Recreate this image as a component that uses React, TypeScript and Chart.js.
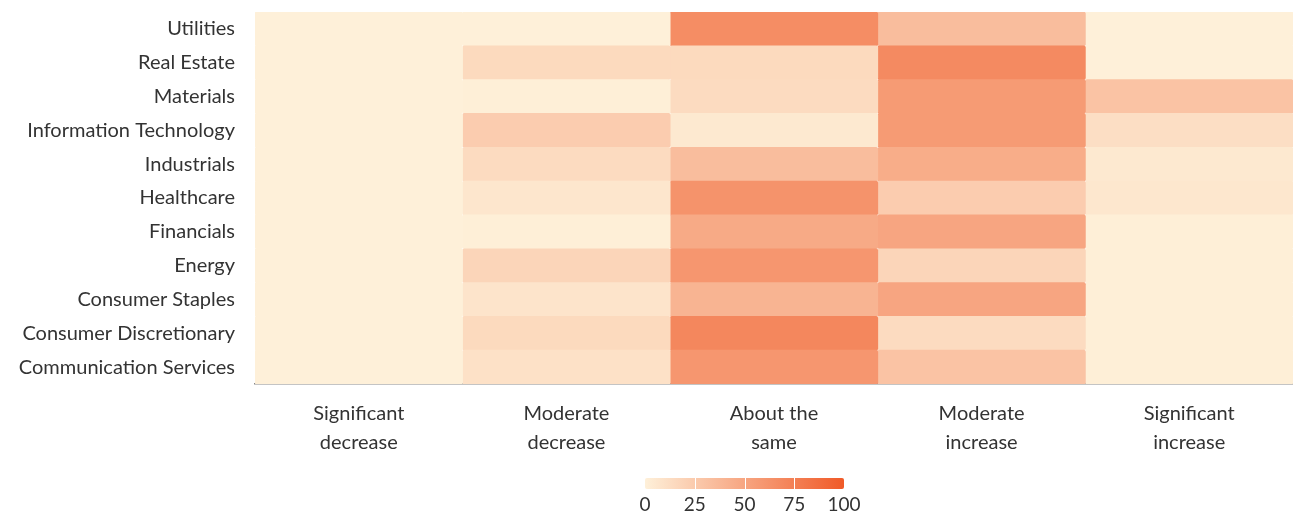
import React, { useEffect, useRef } from "react";
import { Chart, registerables } from "chart.js";

Chart.register(...registerables);

// Rows, top to bottom
const sectors = [
  "Utilities",
  "Real Estate",
  "Materials",
  "Information Technology",
  "Industrials",
  "Healthcare",
  "Financials",
  "Energy",
  "Consumer Staples",
  "Consumer Discretionary",
  "Communication Services",
];

// Columns
const responses = [
  ["Significant", "decrease"],
  ["Moderate", "decrease"],
  ["About the", "same"],
  ["Moderate", "increase"],
  ["Significant", "increase"],
];

// Share of respondents (%) per column, in the order of `sectors`
const significantDecrease = [0, 0, 0, 0, 0, 0, 0, 0, 0, 0, 0];
const moderateDecrease = [0, 15, 1, 24, 14, 7, 1, 18, 8, 15, 10];
const aboutTheSame = [66, 15, 14, 5, 34, 62, 47, 60, 40, 70, 60];
const moderateIncrease = [34, 68, 57, 57, 45, 24, 50, 18, 50, 14, 30];
const significantIncrease = [0, 0, 30, 12, 5, 6, 1, 1, 1, 1, 1];

const columns = [
  significantDecrease,
  moderateDecrease,
  aboutTheSame,
  moderateIncrease,
  significantIncrease,
];

const legendTicks = [0, 25, 50, 75, 100];

const LOW = [254, 240, 217];
const HIGH = [240, 90, 40];

function ramp(v: number): string {
  const t = Math.max(0, Math.min(1, v / 100));
  const c = LOW.map((l, i) => Math.round(l + (HIGH[i] - l) * t));
  return `rgb(${c[0]},${c[1]},${c[2]})`;
}

const FONT = "Lato, 'Open Sans', sans-serif";
const TEXT = "#333333";

const legendPlugin = {
  id: "colorLegend",
  afterDraw(chart: any) {
    const ctx = chart.ctx as CanvasRenderingContext2D;
    const x0 = 645;
    const w = 199;
    const y0 = 478;
    const h = 11;
    ctx.save();
    const g = ctx.createLinearGradient(x0, 0, x0 + w, 0);
    g.addColorStop(0, ramp(0));
    g.addColorStop(0.5, ramp(50));
    g.addColorStop(1, ramp(100));
    ctx.fillStyle = g;
    ctx.beginPath();
    (ctx as any).roundRect(x0, y0, w, h, 2);
    ctx.fill();
    ctx.strokeStyle = "#ffffff";
    ctx.lineWidth = 1;
    legendTicks.forEach((t, i) => {
      if (i === 0 || i === legendTicks.length - 1) return;
      const x = Math.round(x0 + (w * t) / 100) + 0.5;
      ctx.beginPath();
      ctx.moveTo(x, y0);
      ctx.lineTo(x, y0 + h);
      ctx.stroke();
    });
    ctx.fillStyle = TEXT;
    ctx.font = `19px ${FONT}`;
    ctx.textAlign = "center";
    ctx.textBaseline = "middle";
    legendTicks.forEach((t) => {
      ctx.fillText(String(t), x0 + (w * t) / 100, 505);
    });
    ctx.restore();
  },
};

export default function App() {
  const ref = useRef<HTMLCanvasElement | null>(null);

  useEffect(() => {
    document.body.style.margin = "0";
    if (!ref.current) return;
    const radius = { topLeft: 2, topRight: 2, bottomLeft: 2, bottomRight: 2 };
    const chart = new Chart(ref.current, {
      type: "bar",
      data: {
        labels: sectors,
        datasets: columns.map((vals, i) => ({
          label: responses[i].join(" "),
          data: vals.map(() => 1),
          backgroundColor: vals.map((v) => ramp(v)),
          borderWidth: 0,
          borderRadius: radius,
          borderSkipped: false,
          barPercentage: 1,
          categoryPercentage: 1,
        })),
      },
      options: {
        indexAxis: "y",
        animation: false,
        responsive: true,
        maintainAspectRatio: false,
        layout: { padding: { top: 11, right: 0, left: 0, bottom: 51 } },
        plugins: {
          legend: { display: false },
          tooltip: { enabled: false },
        },
        scales: {
          x: {
            type: "linear",
            stacked: true,
            min: 0,
            max: 5,
            grid: { display: false },
            border: { display: true, color: "#8a8a8a", width: 1.5 },
            afterBuildTicks: (axis: any) => {
              axis.ticks = responses.map((_, i) => ({ value: i + 0.5 }));
            },
            ticks: {
              autoSkip: false,
              maxRotation: 0,
              padding: 7,
              color: TEXT,
              font: { family: FONT, size: 20, lineHeight: 1.45 },
              callback: (value: any) => responses[Math.floor(Number(value))] ?? "",
            },
          },
          y: {
            stacked: true,
            grid: {
              display: true,
              drawOnChartArea: false,
              drawTicks: true,
              tickLength: 20,
              color: "rgba(0,0,0,0)",
            },
            border: { display: false },
            afterFit: (axis: any) => {
              axis.width = 255;
            },
            ticks: {
              padding: 0,
              color: TEXT,
              font: { family: FONT, size: 20 },
            },
          },
        },
      },
      plugins: [legendPlugin],
    } as any);
    return () => chart.destroy();
  }, []);

  return (
    <div style={{ position: "relative", width: 1293, height: 515 }}>
      <canvas ref={ref} />
    </div>
  );
}
